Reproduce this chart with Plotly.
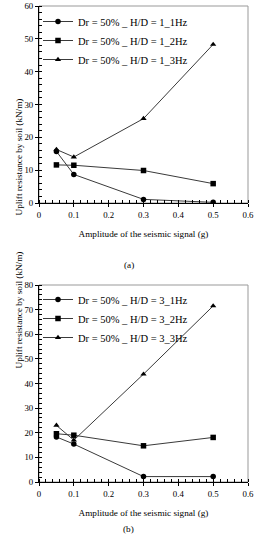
import plotly.graph_objects as go

amplitude = [0.05, 0.1, 0.3, 0.5]

a_names = ["Dr = 50% _ H/D = 1_1Hz", "Dr = 50% _ H/D = 1_2Hz", "Dr = 50% _ H/D = 1_3Hz"]
a_1hz = [15.7, 8.7, 1.1, 0.2]
a_2hz = [11.6, 11.5, 9.9, 5.9]
a_3hz = [16.3, 14.0, 25.7, 48.3]

b_names = ["Dr = 50% _ H/D = 3_1Hz", "Dr = 50% _ H/D = 3_2Hz", "Dr = 50% _ H/D = 3_3Hz"]
b_1hz = [18.3, 15.4, 2.2, 2.2]
b_2hz = [19.6, 19.0, 14.7, 18.1]
b_3hz = [23.0, 17.0, 43.8, 71.5]

symbols = ["circle", "square", "triangle-up"]
x_title = "Amplitude of the seismic signal (g)"
y_title = "Uplift resistance by soil (kN/m)"

W, H = 257, 550
FONT = "Liberation Serif"
FS = 8.8
TFS = 9.2
LFS = 10.5

fig = go.Figure()

for name, ys, sym in zip(a_names, [a_1hz, a_2hz, a_3hz], symbols):
    fig.add_trace(go.Scatter(x=amplitude, y=ys, name=name, mode="lines+markers",
                             line=dict(color="#3a3a3a", width=1),
                             marker=dict(symbol=sym, size=5.5, color="black"),
                             xaxis="x", yaxis="y", legend="legend"))
for name, ys, sym in zip(b_names, [b_1hz, b_2hz, b_3hz], symbols):
    fig.add_trace(go.Scatter(x=amplitude, y=ys, name=name, mode="lines+markers",
                             line=dict(color="#3a3a3a", width=1),
                             marker=dict(symbol=sym, size=5.5, color="black"),
                             xaxis="x2", yaxis="y2", legend="legend2"))

def px_x(p):
    return p / W

def px_y(p):
    return 1 - p / H

xdom = [px_x(39), px_x(248)]
a_dom = [px_y(203), px_y(6)]
b_dom = [px_y(482), px_y(285)]

def xax(anchor):
    return dict(domain=xdom, anchor=anchor, range=[0, 0.6], dtick=0.1,
                automargin=False, showgrid=False, zeroline=False,
                showline=True, linecolor="black", linewidth=1,
                ticks="outside", ticklen=3, tickcolor="black",
                minor=dict(dtick=0.02, ticks="inside", ticklen=3, tickcolor="black", showgrid=False),
                tickfont=dict(family=FONT, size=FS, color="black"),
                title=dict(text=x_title, font=dict(family=FONT, size=TFS, color="black"), standoff=12))

def yax(anchor, dom, rng, dt):
    return dict(domain=dom, anchor=anchor, range=rng, dtick=dt,
                automargin=False, showgrid=False, zeroline=False,
                showline=True, linecolor="black", linewidth=1,
                ticks="outside", ticklen=3, tickcolor="black",
                minor=dict(dtick=2, ticks="inside", ticklen=3, tickcolor="black", showgrid=False),
                tickfont=dict(family=FONT, size=FS, color="black"))

legend_common = dict(bgcolor="rgba(0,0,0,0)", borderwidth=0,
                     font=dict(family=FONT, size=LFS, color="black"),
                     xanchor="left", yanchor="top", itemwidth=30,
                     tracegroupgap=0)

fig.update_layout(
    width=W, height=H,
    margin=dict(l=0, r=0, t=0, b=0, autoexpand=False),
    paper_bgcolor="white", plot_bgcolor="white",
    showlegend=True,
    xaxis=xax("y"), yaxis=yax("x", a_dom, [0, 60], 10),
    xaxis2=xax("y2"), yaxis2=yax("x2", b_dom, [0, 80], 10),
    legend=dict(x=px_x(38), y=px_y(7), **legend_common),
    legend2=dict(x=px_x(38), y=px_y(285), **legend_common),
    shapes=[
        dict(type="rect", xref="x domain", yref="y domain", x0=0, x1=1, y0=0, y1=1,
             line=dict(color="#999999", width=1), layer="below"),
        dict(type="rect", xref="x2 domain", yref="y2 domain", x0=0, x1=1, y0=0, y1=1,
             line=dict(color="#999999", width=1), layer="below"),
    ],
    annotations=[
        dict(text=y_title, textangle=-90, x=px_x(11), y=px_y(97), xref="paper", yref="paper",
             showarrow=False, font=dict(family=FONT, size=TFS, color="black")),
        dict(text=y_title, textangle=-90, x=px_x(11), y=px_y(371), xref="paper", yref="paper",
             showarrow=False, font=dict(family=FONT, size=TFS, color="black")),
        dict(text="(a)", x=0.5, y=px_y(265), xref="paper", yref="paper", showarrow=False,
             font=dict(family=FONT, size=TFS, color="black")),
        dict(text="(b)", x=0.5, y=px_y(536), xref="paper", yref="paper", showarrow=False,
             font=dict(family=FONT, size=TFS, color="black")),
    ],
)

fig.write_html("out.html", config={"displayModeBar": False},
               post_script="document.body.style.margin='0';document.body.style.overflow='hidden';")
